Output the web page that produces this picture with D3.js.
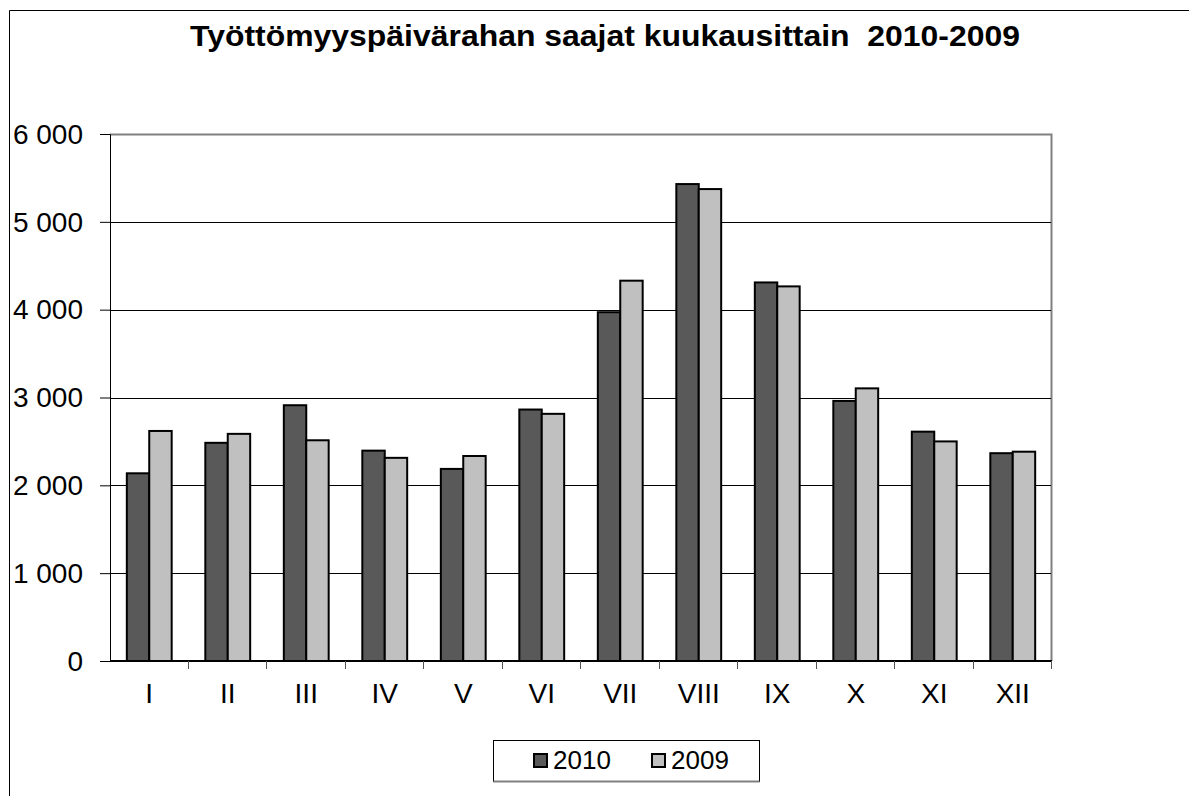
<!DOCTYPE html>
<html>
<head>
<meta charset="utf-8">
<script src="https://cdn.jsdelivr.net/npm/d3@7"></script>
<style>
  body { margin: 0; background: #fff; }
  text { font-family: "Liberation Sans", Arial, sans-serif; }
</style>
</head>
<body>
<div id="chart-area"></div>
<script>
var months = ["I", "II", "III", "IV", "V", "VI", "VII", "VIII", "IX", "X", "XI", "XII"];
var series = ["2010", "2009"];
var values2010 = [2137, 2484, 2912, 2395, 2187, 2863, 3971, 5430, 4310, 2961, 2611, 2366];
var values2009 = [2619, 2586, 2513, 2313, 2334, 2814, 4330, 5373, 4265, 3104, 2500, 2383];
var yTicks = [0, 1000, 2000, 3000, 4000, 5000, 6000];
var colors = ["#595959", "#c0c0c0"];

var W = 1189, H = 796;
var margin = { top: 134, left: 110, right: 137, bottom: 135 };
var width  = W - margin.left - margin.right;
var height = H - margin.top - margin.bottom;

var svg = d3.select("#chart-area")
    .append("svg")
        .attr("width", W)
        .attr("height", H);

// chart frame
svg.append("path")
    .attr("d", "M9.5," + H + "V10.5H" + W)
    .attr("fill", "none")
    .attr("stroke", "#000")
    .attr("stroke-width", 1);

// title: stretched a little sideways like the original
var title = svg.append("text")
    .attr("text-anchor", "middle")
    .attr("font-size", "29px")
    .attr("font-weight", "bold")
    .style("white-space", "pre")
    .text("Työttömyyspäivärahan saajat kuukausittain  2010-2009");
var tw = title.node().getComputedTextLength();
title.attr("transform", "translate(605, 46) scale(" + (830 / tw) + ", 1)");

var g = svg.append("g")
    .attr("transform", "translate(" + margin.left + ", " + margin.top + ")");

var x = d3.scaleBand()
    .domain(months)
    .range([0, width]);

var bw = x.bandwidth() / 3.5;

var y = d3.scaleLinear()
    .domain([0, 6000])
    .range([height, 0]);

// plot area border (gray top/right)
g.append("path")
    .attr("d", "M0,0.5H" + (width - 0.5) + "V" + height)
    .attr("fill", "none")
    .attr("stroke", "#808080")
    .attr("stroke-width", 2);

// gridlines
g.selectAll(".grid")
    .data(yTicks.slice(1, -1))
    .enter()
    .append("line")
        .attr("class", "grid")
        .attr("x1", 0)
        .attr("x2", width - 1)
        .attr("y1", function(d) { return Math.round(y(d)) + 0.5; })
        .attr("y2", function(d) { return Math.round(y(d)) + 0.5; })
        .attr("stroke", "#000")
        .attr("stroke-width", 1);

var fmt = function(d) {
    return d3.format(",")(d).replace(",", " ");
};

var yAxisCall = d3.axisLeft(y)
    .tickValues(yTicks)
    .tickSize(10)
    .tickPadding(17)
    .tickFormat(fmt);

var yAxis = g.append("g")
    .attr("class", "y-axis")
    .call(yAxisCall)
    .attr("font-size", 28)
    .attr("font-family", "Liberation Sans, Arial, sans-serif");
yAxis.select(".domain").attr("stroke", "#000");
yAxis.selectAll("text")
    .attr("fill", "#000")
    .attr("dy", "0.33em");

var xAxisCall = d3.axisBottom(x)
    .tickSize(0)
    .tickPadding(22);

var xAxis = g.append("g")
    .attr("class", "x-axis")
    .attr("transform", "translate(0, " + height + ")")
    .call(xAxisCall)
    .attr("font-size", 28)
    .attr("font-family", "Liberation Sans, Arial, sans-serif");
xAxis.select(".domain")
    .attr("stroke", "#000")
    .attr("stroke-width", 2)
    .attr("d", "M0,0H" + width);
xAxis.selectAll("text")
    .attr("fill", "#000");

// category separator ticks
xAxis.selectAll(".sep")
    .data(months)
    .enter()
    .append("line")
        .attr("class", "sep")
        .attr("x1", function(d) { return Math.round(x(d) + x.bandwidth()) - 0.5; })
        .attr("x2", function(d) { return Math.round(x(d) + x.bandwidth()) - 0.5; })
        .attr("y1", 0)
        .attr("y2", 8)
        .attr("stroke", "#555");

var data = [];
months.forEach(function(m, i) {
    data.push({ month: m, s: 0, v: values2010[i] });
    data.push({ month: m, s: 1, v: values2009[i] });
});

g.selectAll(".bar")
    .data(data)
    .enter()
    .append("rect")
        .attr("class", "bar")
        .attr("x", function(d) { return x(d.month) + bw * 0.75 + d.s * bw; })
        .attr("y", function(d) { return y(d.v); })
        .attr("width", bw)
        .attr("height", function(d) { return height - y(d.v); })
        .attr("fill", function(d) { return colors[d.s]; })
        .attr("stroke", "#000")
        .attr("stroke-width", 2);

// legend
var legend = svg.append("g");
legend.append("rect")
    .attr("x", 493.5)
    .attr("y", 740.5)
    .attr("width", 266)
    .attr("height", 41)
    .attr("fill", "#fff")
    .attr("stroke", "#000")
    .attr("stroke-width", 1);
legend.append("line")
    .attr("x1", 493.5)
    .attr("x2", 759.5)
    .attr("y1", 781.5)
    .attr("y2", 781.5)
    .attr("stroke", "#808080")
    .attr("stroke-width", 2);

var lx = [534, 652];
series.forEach(function(s, i) {
    legend.append("rect")
        .attr("x", lx[i])
        .attr("y", 754)
        .attr("width", 13)
        .attr("height", 13)
        .attr("fill", colors[i])
        .attr("stroke", "#000")
        .attr("stroke-width", 2);
    legend.append("text")
        .attr("x", lx[i] + 19)
        .attr("y", 769)
        .attr("font-size", "26px")
        .text(s);
});
</script>
</body>
</html>
